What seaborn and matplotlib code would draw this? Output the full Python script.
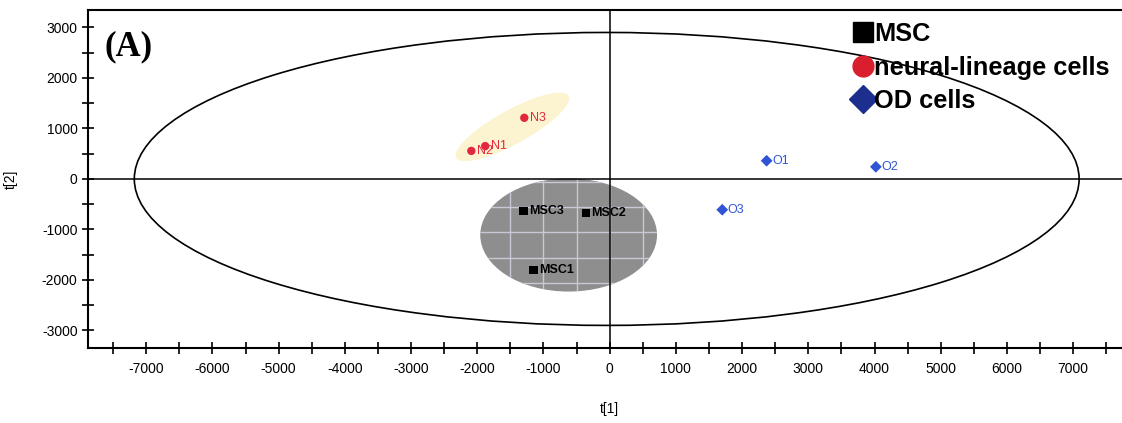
import numpy as np
import pandas as pd
import seaborn as sns
import matplotlib.pyplot as plt
from matplotlib.patches import Ellipse
from matplotlib.lines import Line2D
from matplotlib.ticker import MultipleLocator

# score plot values (t[1], t[2])
samples = ['MSC1', 'MSC2', 'MSC3', 'N1', 'N2', 'N3', 'O1', 'O2', 'O3']
groups = ['MSC', 'MSC', 'MSC', 'neural', 'neural', 'neural', 'OD', 'OD', 'OD']
t1 = [-1150, -360, -1300, -1880, -2090, -1290, 2370, 4020, 1700]
t2 = [-1800, -670, -630, 650, 555, 1210, 360, 240, -610]

legend_labels = ['MSC', 'neural-lineage cells', 'OD cells']

df = pd.DataFrame({'sample': samples, 'group': groups, 't1': t1, 't2': t2})

sns.set_style('ticks')
plt.rcParams['font.family'] = ['Liberation Sans', 'DejaVu Sans']
plt.rcParams['text.color'] = 'black'
plt.rcParams['axes.labelcolor'] = 'black'
plt.rcParams['axes.unicode_minus'] = False

fig = plt.figure(figsize=(11.22, 4.23), dpi=100)
ax = fig.add_axes([0.0784, 0.177, 0.93, 0.8])

# hotelling ellipse
ax.add_patch(Ellipse((-45, 0), 2 * 7135, 2 * 2900, fill=False, ec='black', lw=1.2, zorder=2))

# group shading
ax.add_patch(Ellipse((-1470, 1030), 2100, 620, angle=37, fc='#fcf3d0', ec='none', zorder=1))
grey = Ellipse((-620, -1110), 2670, 2240, fc='#8e8e8e', ec='none', zorder=1)
ax.add_patch(grey)
vl = ax.vlines(np.arange(-2000, 1001, 500), -2500, 500, colors='#c8c9d6', lw=1, zorder=1.5)
hl = ax.hlines(np.arange(-2500, 501, 500) - 60, -2500, 1000, colors='#c8c9d6', lw=1, zorder=1.5)
vl.set_clip_path(grey)
hl.set_clip_path(grey)

ax.axhline(0, color='black', lw=1.1, zorder=2)
ax.axvline(0, color='black', lw=1.1, zorder=2)

sns.scatterplot(data=df, x='t1', y='t2', hue='group', style='group',
                palette={'MSC': 'black', 'neural': '#e2283c', 'OD': '#2f55d4'},
                markers={'MSC': 's', 'neural': 'o', 'OD': 'D'},
                s=36, linewidth=0, legend=False, ax=ax, zorder=3)

txt_style = {'MSC': dict(color='black', fontweight='bold'),
             'neural': dict(color='#e2283c'),
             'OD': dict(color='#2f55d4')}
for _, r in df.iterrows():
    ax.annotate(r['sample'], (r['t1'], r['t2']), xytext=(4, 0), textcoords='offset points',
                va='center', ha='left', fontsize=9, zorder=4, **txt_style[r['group']])

ax.set_xlim(-7880, 7880)
ax.set_ylim(-3350, 3350)
ax.xaxis.set_minor_locator(MultipleLocator(500))
ax.yaxis.set_minor_locator(MultipleLocator(500))
ax.set_xticks(list(range(-7000, 7001, 1000)))
ax.set_yticks(list(range(-3000, 3001, 1000)))
ax.tick_params(which='both', direction='inout', length=8, width=1.2, labelsize=10, colors='black')
ax.tick_params(axis='x', pad=6)
ax.set_xlabel('t[1]', fontsize=10)
ax.set_ylabel('t[2]', fontsize=10)
ax.xaxis.set_label_coords(0.5, -0.16)
ax.yaxis.set_label_coords(-0.067, 0.5)
ax.spines['right'].set_visible(False)
for s in ['left', 'bottom', 'top']:
    ax.spines[s].set_linewidth(1.5)
    ax.spines[s].set_color('black')

ax.text(0.016, 0.94, '(A)', transform=ax.transAxes, fontsize=25, fontweight='bold',
        family=['Liberation Serif', 'DejaVu Serif'], va='top', ha='left')

handles = [Line2D([], [], ls='', marker='s', color='black', markersize=14),
           Line2D([], [], ls='', marker='o', color='#d91e30', markersize=15),
           Line2D([], [], ls='', marker='D', color='#1c2f8f', markersize=14)]
leg = ax.legend(handles, legend_labels, loc='upper left', bbox_to_anchor=(854 / 1122, 1 - 22 / 423),
                bbox_transform=fig.transFigure, frameon=False, handlelength=0.7, handletextpad=0.1,
                labelspacing=0.38, borderpad=0, borderaxespad=0,
                prop={'size': 18.3, 'weight': 'bold'})

fig.savefig('out.png', dpi=100)
